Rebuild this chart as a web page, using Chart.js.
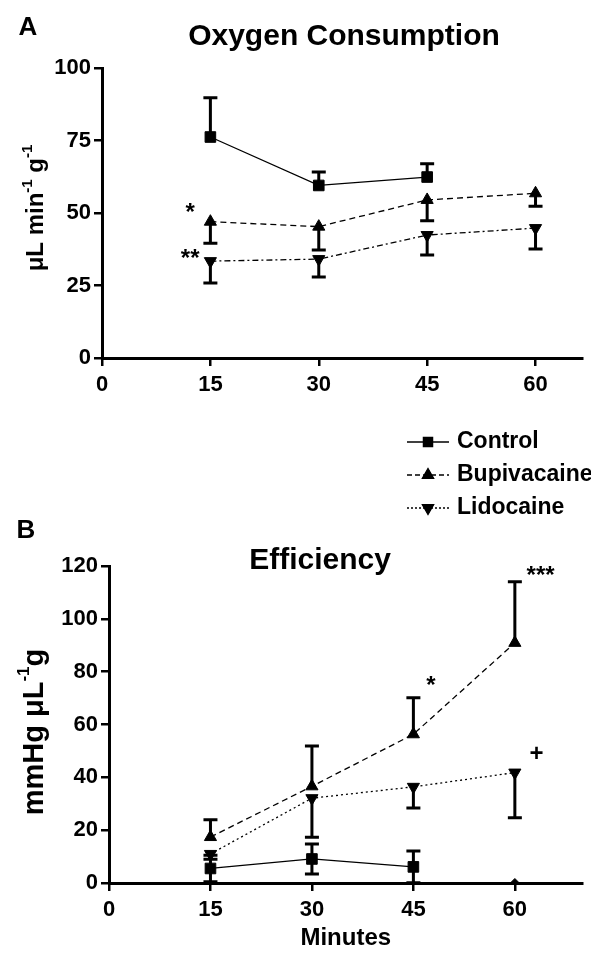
<!DOCTYPE html>
<html><head><meta charset="utf-8">
<script src="https://cdn.jsdelivr.net/npm/chart.js@4.4.0/dist/chart.umd.min.js"></script>
<style>
html,body{margin:0;padding:0;background:#fff;}
#wrap{position:relative;width:591px;height:955px;background:#fff;}
canvas{position:absolute;left:0;top:0;}
</style></head><body>
<div id="wrap"><canvas id="cA" width="591" height="955"></canvas><canvas id="cB" width="591" height="955"></canvas></div>
<script>
// ---------- data ----------
const minutes = [15, 30, 45, 60];
const xTicks = [0, 15, 30, 45, 60];
const yTicksA = [0, 25, 50, 75, 100];
const yTicksB = [0, 20, 40, 60, 80, 100, 120];
const seriesNames = ['Control', 'Bupivacaine', 'Lidocaine'];

// Panel A: Oxygen consumption (µL min-1 g-1), mean and SEM
const o2Control = [76.2, 59.5, 62.4, null];
const o2ControlErr = [13.5, 4.6, 4.6, null];
const o2Bupi = [47.0, 45.3, 54.5, 56.8];
const o2BupiErr = [7.4, 8.1, 7.2, 4.5];
const o2Lido = [33.4, 34.1, 42.4, 44.8];
const o2LidoErr = [7.5, 6.2, 6.9, 7.2];

// Panel B: Efficiency (mmHg µL-1 g), mean and SEM
const effControl = [5.5, 9.1, 6.1, null];
const effControlErr = [5.0, 5.7, 6.0, null];
const effControl60 = [null, null, null, 0];
const effBupi = [17.4, 36.6, 56.3, 90.9];
const effBupiErr = [6.5, 15.3, 13.8, 23.1];
const effLido = [11.0, 32.1, 36.4, 41.8];
const effLidoErr = [2.0, 14.8, 8.0, 17.1];

// significance marks (data units)
const marksA = ['*', '**'];
const marksAx = [12.2, 12.2];
const marksAy = [52.2, 36.2];
const marksB = ['*', '***', '+'];
const marksBx = [47.6, 63.8, 63.2];
const marksBy = [76.9, 118.6, 49.0];

// ---------- helpers ----------
const FONT = '"Liberation Sans", Arial, Helvetica, sans-serif';
const pts = (arr) => minutes.map((m, i) => ({ x: m, y: arr[i] }));

const errorBarPlugin = {
  id: 'errbars',
  beforeDatasetsDraw(chart) {
    const ctx = chart.ctx, xs = chart.scales.x, ys = chart.scales.y;
    ctx.save();
    ctx.strokeStyle = '#000';
    ctx.lineWidth = 3;
    ctx.setLineDash([]);
    chart.data.datasets.forEach((ds) => {
      if (!ds.errors) return;
      ds.data.forEach((p, j) => {
        const e = ds.errors[j];
        if (p.y == null || e == null) return;
        const x = xs.getPixelForValue(p.x), y0 = ys.getPixelForValue(p.y);
        const cap = 7;
        ctx.beginPath();
        if (ds.errDir === 'up' || ds.errDir === 'both') {
          const yh = ys.getPixelForValue(p.y + e);
          ctx.moveTo(x, y0); ctx.lineTo(x, yh);
          ctx.moveTo(x - cap, yh); ctx.lineTo(x + cap, yh);
        }
        if (ds.errDir === 'down' || ds.errDir === 'both') {
          const yl = ys.getPixelForValue(p.y - e);
          ctx.moveTo(x, y0); ctx.lineTo(x, yl);
          ctx.moveTo(x - cap, yl); ctx.lineTo(x + cap, yl);
        }
        ctx.stroke();
      });
    });
    ctx.restore();
  }
};

function drawRotatedTitle(ctx, segs, baseX, cy, size, supSize, supOff) {
  ctx.save();
  ctx.translate(baseX, cy);
  ctx.rotate(-Math.PI / 2);
  ctx.fillStyle = '#000';
  ctx.textBaseline = 'alphabetic';
  ctx.textAlign = 'left';
  let total = 0;
  segs.forEach(s => { ctx.font = 'bold ' + (s.sup ? supSize : size) + 'px ' + FONT; s.w = ctx.measureText(s.t).width; total += s.w; });
  let x = -total / 2;
  segs.forEach(s => {
    ctx.font = 'bold ' + (s.sup ? supSize : size) + 'px ' + FONT;
    ctx.fillText(s.t, x, s.sup ? -supOff : 0);
    x += s.w;
  });
  ctx.restore();
}

function drawText(ctx, t, x, y, size, align) {
  ctx.save();
  ctx.fillStyle = '#000';
  ctx.font = 'bold ' + size + 'px ' + FONT;
  ctx.textAlign = align || 'center';
  ctx.textBaseline = 'middle';
  ctx.fillText(t, x, y);
  ctx.restore();
}

function drawMarks(chart, texts, xsArr, ysArr) {
  const ctx = chart.ctx, xs = chart.scales.x, ys = chart.scales.y;
  texts.forEach((t, i) => {
    const x = xs.getPixelForValue(xsArr[i]);
    const y = ys.getPixelForValue(ysArr[i]);
    const size = 24;
    ctx.save();
    ctx.fillStyle = '#000';
    ctx.font = 'bold ' + size + 'px ' + FONT;
    ctx.textAlign = 'center';
    ctx.textBaseline = 'alphabetic';
    const off = t === '+' ? 0.33 * size : 0.56 * size;
    ctx.fillText(t, x, y + off);
    ctx.restore();
  });
}

function axisCfg(ticksArr, min, max, fixedSize, isX, titleCfg) {
  return {
    type: 'linear',
    min: min, max: max,
    afterBuildTicks: (s) => { s.ticks = ticksArr.map(v => ({ value: v })); },
    afterFit: (s) => { if (isX) s.height = fixedSize; else s.width = fixedSize; },
    grid: { display: true, drawOnChartArea: false, drawTicks: true, tickLength: 8, color: '#000', lineWidth: 2.5 },
    border: { display: true, color: '#000', width: 3 },
    ticks: { color: '#000', font: { family: FONT, size: 22, weight: 'bold' }, padding: isX ? 6 : 3, autoSkip: false, maxRotation: 0, includeBounds: false },
    title: titleCfg || { display: false }
  };
}

const baseOpts = {
  responsive: false,
  animation: false,
  devicePixelRatio: 1,
  events: [],
  plugins: { legend: { display: false }, tooltip: { enabled: false } }
};

// ---------- Chart A ----------
const decorA = {
  id: 'decorA',
  afterDraw(chart) {
    const ctx = chart.ctx;
    drawText(ctx, 'A', 28, 28, 26);
    drawText(ctx, 'Oxygen Consumption', 344, 37, 30);
    drawRotatedTitle(ctx, [{ t: 'μL min' }, { t: '-1', sup: true }, { t: ' g' }, { t: '-1', sup: true }], 43, 208, 24, 15, 11);
    drawMarks(chart, marksA, marksAx, marksAy);
    // legend
    const legendDash = [[], [5, 3], [2, 2]];
    const legendStyle = [['rect', 0, 6.5], ['triangle', 0, 6.5], ['triangle', 180, 6.5]];
    const ly = [442, 475, 508];
    seriesNames.forEach((name, i) => {
      ctx.save();
      ctx.strokeStyle = '#000';
      ctx.lineWidth = 1.3;
      ctx.setLineDash(legendDash[i]);
      ctx.beginPath(); ctx.moveTo(407, ly[i]); ctx.lineTo(449, ly[i]); ctx.stroke();
      ctx.setLineDash([]);
      ctx.fillStyle = '#000';
      Chart.helpers.drawPoint(ctx, { pointStyle: legendStyle[i][0], rotation: legendStyle[i][1], radius: legendStyle[i][2], borderWidth: 1 }, 428, ly[i]);
      ctx.fill();
      ctx.restore();
      drawText(ctx, name, 457, ly[i], 23, 'left');
    });
  }
};

new Chart(document.getElementById('cA'), {
  type: 'line',
  data: {
    datasets: [
      { label: seriesNames[0], data: pts(o2Control), errors: o2ControlErr, errDir: 'up',
        borderColor: '#000', borderWidth: 1.3, pointStyle: 'rect', pointRadius: 7.5, pointBackgroundColor: '#000', pointBorderColor: '#000', pointBorderWidth: 1 },
      { label: seriesNames[1], data: pts(o2Bupi), errors: o2BupiErr, errDir: 'down',
        borderColor: '#000', borderWidth: 1.3, borderDash: [6, 4], pointStyle: 'triangle', pointRadius: 7, pointBackgroundColor: '#000', pointBorderColor: '#000', pointBorderWidth: 1 },
      { label: seriesNames[2], data: pts(o2Lido), errors: o2LidoErr, errDir: 'down',
        borderColor: '#000', borderWidth: 1.3, borderDash: [6, 3, 2, 3], pointStyle: 'triangle', pointRotation: 180, pointRadius: 7, pointBackgroundColor: '#000', pointBorderColor: '#000', pointBorderWidth: 1 }
    ]
  },
  options: Object.assign({}, baseOpts, {
    layout: { padding: { top: 68, left: 0, right: 6, bottom: 0 } },
    scales: {
      x: axisCfg(xTicks, 0, 66.5, 955 - 358, true),
      y: axisCfg(yTicksA, 0, 100, 102, false)
    }
  }),
  plugins: [errorBarPlugin, decorA]
});

// ---------- Chart B ----------
const decorB = {
  id: 'decorB',
  afterDraw(chart) {
    const ctx = chart.ctx;
    drawText(ctx, 'B', 26, 531, 26);
    drawText(ctx, 'Efficiency', 320, 561, 30);
    drawRotatedTitle(ctx, [{ t: 'mmHg μL' }, { t: '-1', sup: true }, { t: 'g' }], 43, 732, 29, 17, 14);
    drawMarks(chart, marksB, marksBx, marksBy);
  }
};

new Chart(document.getElementById('cB'), {
  type: 'line',
  data: {
    datasets: [
      { label: seriesNames[0], data: pts(effControl), errors: effControlErr, errDir: 'both',
        borderColor: '#000', borderWidth: 1.3, pointStyle: 'rect', pointRadius: 7.5, pointBackgroundColor: '#000', pointBorderColor: '#000', pointBorderWidth: 1 },
      { label: seriesNames[0] + ' 60', data: pts(effControl60), showLine: false,
        borderColor: '#000', pointStyle: 'rectRot', pointRadius: 4.5, pointBackgroundColor: '#000', pointBorderColor: '#000', pointBorderWidth: 1 },
      { label: seriesNames[1], data: pts(effBupi), errors: effBupiErr, errDir: 'up',
        borderColor: '#000', borderWidth: 1.3, borderDash: [6, 4], pointStyle: 'triangle', pointRadius: 7, pointBackgroundColor: '#000', pointBorderColor: '#000', pointBorderWidth: 1 },
      { label: seriesNames[2], data: pts(effLido), errors: effLidoErr, errDir: 'down',
        borderColor: '#000', borderWidth: 1.3, borderDash: [2, 3], pointStyle: 'triangle', pointRotation: 180, pointRadius: 7, pointBackgroundColor: '#000', pointBorderColor: '#000', pointBorderWidth: 1 }
    ]
  },
  options: Object.assign({}, baseOpts, {
    layout: { padding: { top: 566, left: 0, right: 1, bottom: 0 } },
    scales: {
      x: axisCfg(xTicks, 0, 70, 955 - 883, true, { display: true, text: 'Minutes', color: '#000', font: { family: FONT, size: 24, weight: 'bold' }, padding: { top: 0, bottom: 2 } }),
      y: axisCfg(yTicksB, 0, 120, 109, false)
    }
  }),
  plugins: [errorBarPlugin, decorB]
});
</script>
</body></html>
